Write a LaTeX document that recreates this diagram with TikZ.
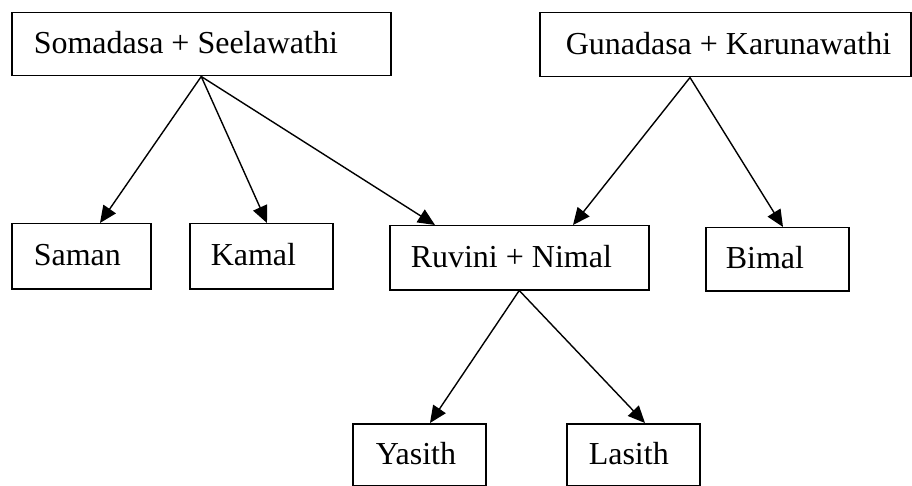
\documentclass[tikz,border=0pt]{standalone}
\usepackage{fontspec}
\setmainfont{Liberation Serif}
\usetikzlibrary{arrows.meta}
\newcommand{\boxtext}[3]{\makebox[#1][l]{\hspace*{#2}#3}}
\begin{document}
\begin{tikzpicture}[x=1pt,y=-1pt,
  person/.style={draw, line width=1.5pt, rectangle, anchor=north west,
    font=\fontsize{32}{36}\selectfont, inner xsep=0pt,
    text height=22pt, text depth=3pt, inner ysep=0pt},
  arr/.style={line width=1.4pt, -{Triangle[length=17pt,width=15pt]}}]
\useasboundingbox (0,0) rectangle (912,486);
\fill[white] (0,0) rectangle (912,486);
\node[person, minimum height=63pt] (som) at (11,12) {\boxtext{379pt}{22pt}{Somadasa + Seelawathi}};
\node[person, minimum height=64pt] (gun) at (539,12) {\boxtext{371pt}{26pt}{Gunadasa + Karunawathi}};
\node[person, minimum height=65pt] (saman) at (11,223) {\boxtext{139pt}{22pt}{Saman}};
\node[person, minimum height=65pt] (kamal) at (189,223) {\boxtext{143pt}{21pt}{Kamal}};
\node[person, minimum height=64pt] (ruv) at (389,225) {\boxtext{259pt}{21pt}{Ruvini + Nimal}};
\node[person, minimum height=63pt] (bimal) at (705,227) {\boxtext{143pt}{20pt}{Bimal}};
\node[person, minimum height=62pt] (yas) at (352,423) {\boxtext{133pt}{23pt}{Yasith}};
\node[person, minimum height=62pt] (las) at (566,423) {\boxtext{133pt}{22pt}{Lasith}};
\coordinate (gsrc) at ([xshift=151pt]gun.south west);
\draw[arr] (som.south) -- ([xshift=89pt]saman.north west);
\draw[arr] (som.south) -- ([xshift=78pt]kamal.north west);
\draw[arr] (som.south) -- ([xshift=46pt]ruv.north west);
\draw[arr] (gsrc) -- ([xshift=184pt]ruv.north west);
\draw[arr] (gsrc) -- ([xshift=78pt]bimal.north west);
\draw[arr] (ruv.south) -- ([xshift=78pt]yas.north west);
\draw[arr] (ruv.south) -- ([xshift=79pt]las.north west);
\end{tikzpicture}
\end{document}
